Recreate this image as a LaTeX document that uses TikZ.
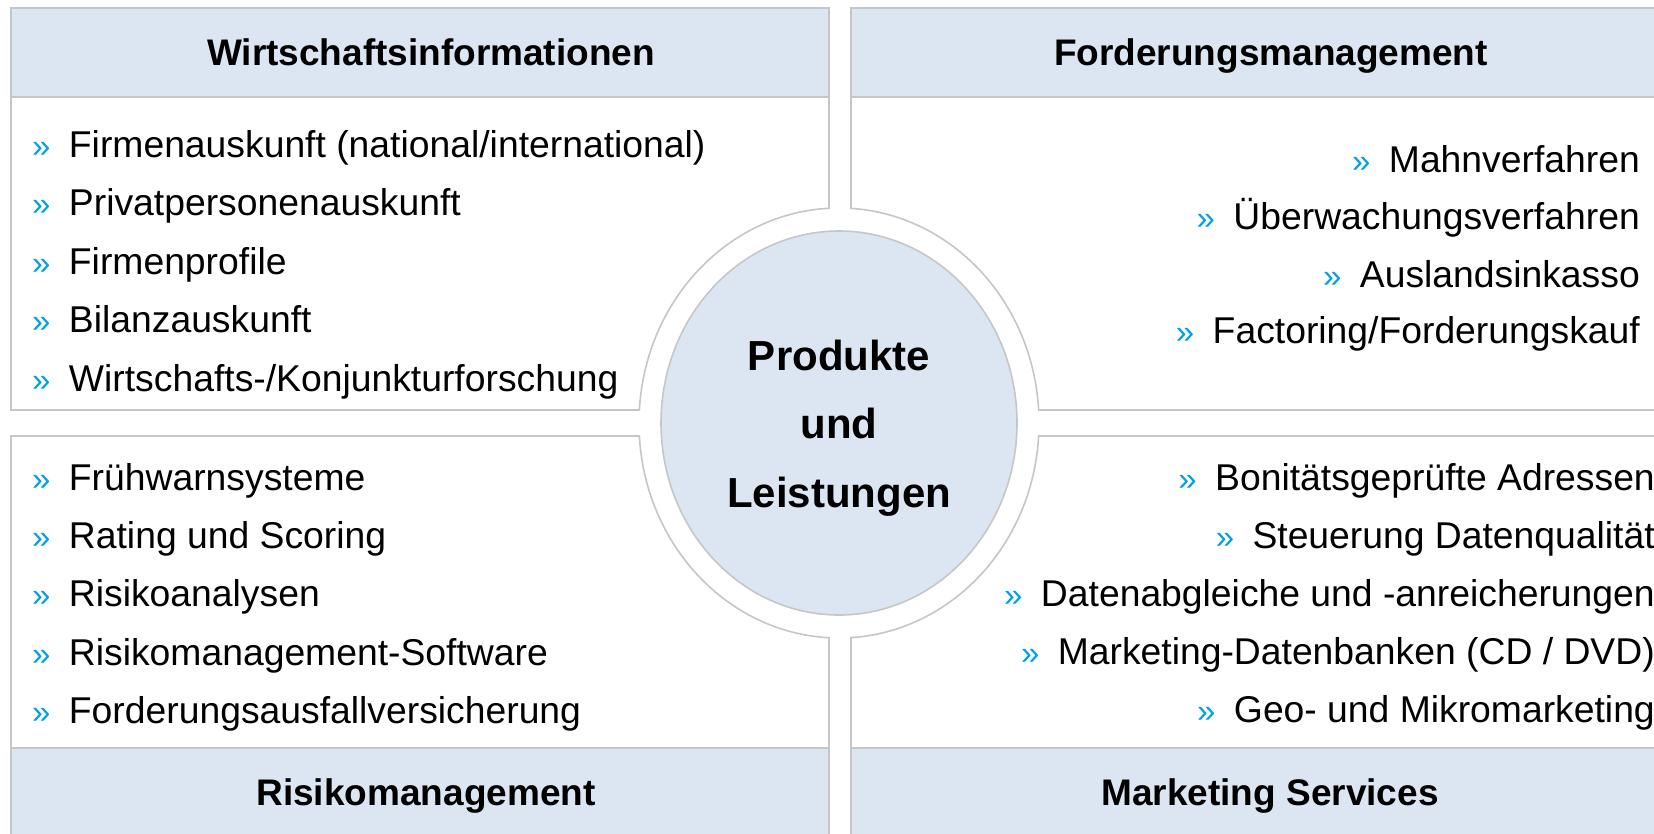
\documentclass[tikz,border=0pt]{standalone}
\usepackage{fontspec}
\setmainfont{Liberation Sans}
\usetikzlibrary{positioning}
\definecolor{headblue}{HTML}{DCE6F2}
\definecolor{framegray}{HTML}{C6C6C6}
\definecolor{bulletblue}{HTML}{00A0E3}

\begin{document}
\begin{tikzpicture}[x=1pt, y=-1pt,
		frame/.style={draw=framegray, line width=1.6pt},
		headbox/.style={frame, fill=headblue},
		headtext/.style={font=\fontsize{37}{44}\selectfont\bfseries, anchor=base, inner sep=0pt},
		item/.style={font=\fontsize{37.3}{44}\selectfont, inner sep=0pt},
		bul/.style={font=\fontsize{33}{40}\selectfont, text=bulletblue, inner sep=0pt}]
			%%%%% START %%%%%
			
			\useasboundingbox (0,0) rectangle (1654,833);
			
			% four panels
			\draw[frame] (11,8) rectangle (829,410);
			\draw[headbox] (11,8) rectangle (829,97);
			\draw[frame] (851,8) rectangle (1680,410);
			\draw[headbox] (851,8) rectangle (1680,97);
			\draw[frame] (11,436) rectangle (829,860);
			\draw[headbox] (11,748) rectangle (829,860);
			\draw[frame] (851,436) rectangle (1680,860);
			\draw[headbox] (851,748) rectangle (1680,860);
			
			% ring round the centre
			\fill[white] (839,423) ellipse [x radius=200pt, y radius=215pt];
			\begin{scope}
				\clip (10.2,7.2) rectangle (829.8,410.8) (850.2,7.2) rectangle (1680,410.8)
				      (10.2,435.2) rectangle (829.8,860) (850.2,435.2) rectangle (1680,860);
				\draw[frame] (839,423) ellipse [x radius=200pt, y radius=215pt];
			\end{scope}
			\draw[frame, fill=headblue] (839,423) ellipse [x radius=178pt, y radius=192pt];
			\node[align=center, font=\fontsize{42}{68.5}\selectfont\bfseries] (prod) at (839,428) {Produkte\\und\\Leistungen};
			
			% headers
			\node[headtext] (wirt) at (431,65) {Wirtschaftsinformationen};
			\node[headtext] (ford) at (1271,65) {Forderungsmanagement};
			\node[headtext] (risk) at (426,805) {Risikomanagement};
			\node[headtext] (mark) at (1270,805) {Marketing Services};
			
			% Wirtschaftsinformationen
			\node[bul, anchor=base west] (wb1) at (32,157) {»};
			\node[item, base right=18pt of wb1] (w1) {Firmenauskunft (national/international)};
			\node[bul, anchor=base west] (wb2) at (32,215.5) {»};
			\node[item, base right=18pt of wb2] (w2) {Privatpersonenauskunft};
			\node[bul, anchor=base west] (wb3) at (32,274) {»};
			\node[item, base right=18pt of wb3] (w3) {Firmenprofile};
			\node[bul, anchor=base west] (wb4) at (32,332.5) {»};
			\node[item, base right=18pt of wb4] (w4) {Bilanzauskunft};
			\node[bul, anchor=base west] (wb5) at (32,391) {»};
			\node[item, base right=18pt of wb5] (w5) {Wirtschafts-/Konjunkturforschung};
			
			% Forderungsmanagement
			\node[item, anchor=base east] (f1) at (1640,172) {Mahnverfahren};
			\node[bul, base left=18pt of f1] (fb1) {»};
			\node[item, anchor=base east] (f2) at (1640,229) {Überwachungsverfahren};
			\node[bul, base left=18pt of f2] (fb2) {»};
			\node[item, anchor=base east] (f3) at (1640,287) {Auslandsinkasso};
			\node[bul, base left=18pt of f3] (fb3) {»};
			\node[item, anchor=base east] (f4) at (1640,343) {Factoring/Forderungskauf};
			\node[bul, base left=18pt of f4] (fb4) {»};
			
			% Risikomanagement
			\node[bul, anchor=base west] (rb1) at (32,490) {»};
			\node[item, base right=18pt of rb1] (r1) {Frühwarnsysteme};
			\node[bul, anchor=base west] (rb2) at (32,548) {»};
			\node[item, base right=18pt of rb2] (r2) {Rating und Scoring};
			\node[bul, anchor=base west] (rb3) at (32,606.5) {»};
			\node[item, base right=18pt of rb3] (r3) {Risikoanalysen};
			\node[bul, anchor=base west] (rb4) at (32,665) {»};
			\node[item, base right=18pt of rb4] (r4) {Risikomanagement-Software};
			\node[bul, anchor=base west] (rb5) at (32,723) {»};
			\node[item, base right=18pt of rb5] (r5) {Forderungsausfallversicherung};
			
			% Marketing Services
			\node[item, anchor=base east] (m1) at (1655,490) {Bonitätsgeprüfte Adressen};
			\node[bul, base left=18pt of m1] (mb1) {»};
			\node[item, anchor=base east] (m2) at (1655,548) {Steuerung Datenqualität};
			\node[bul, base left=18pt of m2] (mb2) {»};
			\node[item, anchor=base east] (m3) at (1655,606) {Datenabgleiche und -anreicherungen};
			\node[bul, base left=18pt of m3] (mb3) {»};
			\node[item, anchor=base east] (m4) at (1655,664) {Marketing-Datenbanken (CD / DVD)};
			\node[bul, base left=18pt of m4] (mb4) {»};
			\node[item, anchor=base east] (m5) at (1655,722) {Geo- und Mikromarketing};
			\node[bul, base left=18pt of m5] (mb5) {»};
			
			%%%%% END %%%%%
\end{tikzpicture}
\end{document}
